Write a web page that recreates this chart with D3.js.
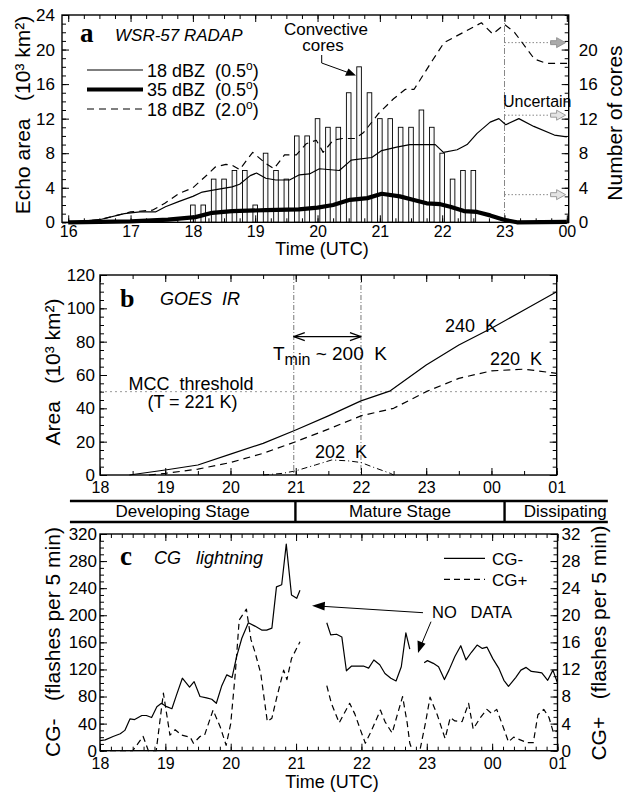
<!DOCTYPE html>
<html>
<head>
<meta charset="utf-8">
<script src="https://cdn.jsdelivr.net/npm/d3@7"></script>
<style>
  body { margin: 0; background: #fff; }
  svg { display: block; font-family: "Liberation Sans", Arial, sans-serif; }
  text { white-space: pre; }
</style>
</head>
<body>
<svg id="fig" width="627" height="793"></svg>
<script>
// ---------- panel a : radar echo area (10^3 km^2) and convective cores ----------
const coreTimes = ["18:00","18:10","18:20","18:30","18:40","18:50","19:00","19:10","19:20","19:30",
                   "19:40","19:50","20:00","20:10","20:20","20:30","20:40","20:50","21:00","21:10",
                   "21:20","21:30","21:40","21:50","22:00","22:10","22:20","22:30"];
const coreCounts = [2,2,5,5,6,6,2,8,6,5,10,10,12,11,11,15,18,15,12,12,11,11,13,11,8,5,6,6];

const echo18Low = [[16.0,0],[16.5,0.3],[16.9,1.0],[17.15,1.2],[17.4,1.2],[17.56,1.8],[17.77,2.4],[18.0,3.0],
  [18.15,3.5],[18.3,3.7],[18.63,4.1],[18.75,4.4],[18.92,5.4],[19.02,5.7],[19.17,5.1],[19.33,4.9],[19.55,4.9],
  [19.71,5.5],[19.87,5.6],[20.03,6.2],[20.35,6.0],[20.54,7.2],[20.87,7.5],[21.03,8.3],[21.27,8.7],[21.48,9.0],
  [21.89,9.0],[22.02,8.1],[22.24,8.4],[22.4,9.0],[22.56,10.3],[22.77,11.6],[22.91,12.0],[23.02,11.3],
  [23.23,12.0],[23.47,11.1],[23.8,10.1],[24.0,9.9]];
const echo35Low = [[16.0,0],[17.0,0.1],[17.6,0.3],[18.04,0.6],[18.31,1.1],[18.63,1.3],[19.17,1.4],[19.7,1.5],
  [20.0,1.7],[20.25,2.0],[20.52,2.6],[20.8,2.8],[21.03,3.3],[21.32,3.0],[21.53,2.6],[21.75,2.2],[21.97,2.1],
  [22.13,1.8],[22.35,1.3],[22.56,1.2],[22.77,0.8],[22.99,0.3],[23.2,0],[24.0,0.05]];
const echo18High = [[16.0,0],[16.5,0.3],[17.0,1.2],[17.35,1.4],[17.55,2.2],[17.77,3.3],[18.0,4.0],[18.2,5.3],
  [18.36,6.4],[18.53,6.7],[18.63,6.6],[18.75,6.1],[18.96,8.1],[19.17,6.8],[19.3,6.2],[19.47,7.8],[19.66,7.8],
  [19.82,9.1],[19.98,9.5],[20.09,8.1],[20.25,9.5],[20.4,9.7],[20.6,9.7],[20.74,10.4],[20.98,12.6],[21.22,14.3],
  [21.41,15.4],[21.55,15.4],[21.84,18.7],[22.03,20.8],[22.63,23.1],[22.81,21.8],[23.0,22.9],[23.16,22.0],
  [23.48,18.9],[23.67,18.4],[24.02,18.4]];
const uncertainLevels = [20.8, 12.4, 3.2];

// ---------- panel b : GOES IR cloud-shield area (10^3 km^2) ----------
const ir240 = [[18.45,0],[19,3],[19.5,6],[20,12.5],[20.5,19],[21,27],[21.5,35.5],[22,44.5],[22.45,50.5],
  [23,66],[23.5,78],[24,88],[24.5,99],[25,110]];
const ir220 = [[18.75,0],[19,1],[19.5,3.5],[20,7.5],[20.5,13],[21,20],[21.5,27.5],[22,35.5],[22.5,40],
  [23,50],[23.5,58],[24,62.5],[24.5,63.5],[25,61]];
const ir202 = [[20.5,0],[20.8,1],[21,2.5],[21.3,6],[21.55,9],[21.8,8.5],[22,7.5],[22.2,4.5],[22.45,1],[22.5,0]];
const mccThreshold = 50;
const tminWindow = [20.97, 22.0];

// ---------- stages ----------
const stageNames = ["Developing Stage", "Mature Stage", "Dissipating"];
const stageEdges = [17.54, 20.99, 24.19, 25.77];

// ---------- panel c : CG lightning (flashes per 5 min) ----------
const cgMinus = [
  [[18.0,15],[18.08,16],[18.2,21],[18.31,25],[18.38,30],[18.46,47],[18.53,46],[18.64,52],[18.71,52],[18.79,49],
   [18.87,65],[18.94,70],[19.02,65],[19.1,62],[19.17,82],[19.26,107],[19.37,94],[19.44,102],[19.53,80],[19.63,78],
   [19.71,76],[19.78,70],[19.86,95],[19.94,112],[20.02,108],[20.09,139],[20.17,166],[20.27,189],[20.37,184],
   [20.48,178],[20.55,178],[20.63,181],[20.7,242],[20.78,245],[20.85,305],[20.93,230],[21.01,225],[21.06,237]],
  [[21.47,189],[21.53,171],[21.62,172],[21.7,168],[21.77,118],[21.85,125],[21.94,125],[22.03,125],[22.11,122],
   [22.19,134],[22.28,127],[22.36,114],[22.45,107],[22.53,103],[22.61,124],[22.68,174],[22.74,150]],
  [[22.96,130],[23.01,133],[23.1,129],[23.18,124],[23.27,105],[23.34,119],[23.43,139],[23.52,155],[23.6,134],
   [23.68,145],[23.77,156],[23.85,151],[23.92,153],[24.01,136],[24.1,122],[24.18,104],[24.25,95],[24.36,108],
   [24.44,119],[24.52,123],[24.6,117],[24.69,116],[24.76,115],[24.85,104],[24.93,119],[25.0,100]]
];
const cgPlus = [
  [[18.0,0],[18.5,0],[18.66,2.1],[18.74,0],[18.86,0],[18.97,8.5],[19.07,2.3],[19.15,3.1],[19.25,2.3],[19.38,2.0],
   [19.43,1.1],[19.53,2.1],[19.6,2.3],[19.73,6.0],[19.84,3.5],[19.93,0.8],[20.0,4.0],[20.07,11.4],[20.13,19.3],
   [20.24,20.9],[20.31,16.4],[20.37,14.6],[20.46,11.4],[20.56,4.3],[20.63,4.8],[20.7,7.7],[20.81,11.9],
   [20.86,10.5],[20.93,13.6],[21.06,16.1]],
  [[21.47,9.6],[21.54,7.0],[21.66,4.1],[21.73,5.4],[21.82,7.0],[21.9,5.4],[21.98,3.2],[22.06,1.1],[22.16,3.1],
   [22.29,6.0],[22.36,4.3],[22.47,2.6],[22.54,5.0],[22.63,8.0],[22.7,4.1],[22.74,1.1],[22.78,0]],
  [[22.9,0.3],[22.98,4.1],[23.05,7.9],[23.16,5.3],[23.28,1.8],[23.36,4.9],[23.43,4.4],[23.54,4.3],[23.64,7.0],
   [23.71,3.2],[23.82,4.9],[23.92,6.1],[23.99,5.5],[24.07,6.1],[24.18,3.2],[24.25,1.3],[24.33,2.0],[24.43,1.6],
   [24.53,1.2],[24.63,1.2],[24.7,5.3],[24.79,6.1],[24.87,4.9],[24.94,2.6],[25.0,3.0]]
];

const hoursA = [16,17,18,19,20,21,22,23,24];
const hoursBC = [18,19,20,21,22,23,24,25];

// ---------- scales ----------
const xA = d3.scaleLinear().domain([15.9, 24.03]).range([62, 568.7]);
const yA = d3.scaleLinear().domain([0, 24]).range([222.3, 15]);
const xB = d3.scaleLinear().domain([18, 25]).range([100, 556.7]);
const yB = d3.scaleLinear().domain([0, 120]).range([475, 275]);
const xC = d3.scaleLinear().domain([18, 25]).range([100, 557.5]);
const yC = d3.scaleLinear().domain([0, 320]).range([750.7, 534]);
const yC2 = d3.scaleLinear().domain([0, 32]).range([750.7, 534]);

const svg = d3.select("#fig");
const hourFmt = h => String(h % 24).padStart(2, "0");
const parseHM = s => { const [h, m] = s.split(":").map(Number); return h + m / 60; };

function addAxis(axis, tx, ty, size) {
    const g = svg.append("g").attr("transform", `translate(${tx},${ty})`).call(axis);
    g.select(".domain").remove();
    g.attr("font-family", null).attr("font-size", size);
    g.selectAll("text").attr("fill", "#000");
    return g;
}

function frame(x, y) {
    const [x0, x1] = x.range(), [y0, y1] = y.range();
    svg.append("rect")
        .attr("x", x0).attr("y", y1).attr("width", x1 - x0).attr("height", y0 - y1)
        .attr("fill", "none").attr("stroke", "#000").attr("stroke-width", 1.4);
}

// x ticks top and bottom, labels at bottom
function timeAxes(x, y, minorStep, labelPad) {
    const [lo, hi] = x.domain(), [y0, y1] = y.range();
    const major = hoursBC.concat(hoursA).filter((h, i, a) => a.indexOf(h) === i && h >= lo - 1e-6 && h <= hi + 1e-6);
    const minor = d3.range(Math.ceil(lo), hi + 1e-6, minorStep);
    addAxis(d3.axisBottom(x).tickValues(major).tickSize(-7).tickSizeOuter(0).tickPadding(labelPad).tickFormat(hourFmt), 0, y0, 16);
    addAxis(d3.axisBottom(x).tickValues(minor).tickSize(-4).tickSizeOuter(0).tickFormat(""), 0, y0, 16);
    addAxis(d3.axisTop(x).tickValues(major).tickSize(-7).tickSizeOuter(0).tickFormat(""), 0, y1, 16);
    addAxis(d3.axisTop(x).tickValues(minor).tickSize(-4).tickSizeOuter(0).tickFormat(""), 0, y1, 16);
}

function valueAxis(side, y, pos, majorVals, minorVals, pad, labels) {
    const mk = side === "left" ? d3.axisLeft : d3.axisRight;
    addAxis(mk(y).tickValues(majorVals).tickSize(-7).tickSizeOuter(0).tickPadding(pad)
        .tickFormat(labels ? d3.format("d") : ""), pos, 0, 17);
    addAxis(mk(y).tickValues(minorVals).tickSize(-4).tickSizeOuter(0).tickFormat(""), pos, 0, 17);
}

function text(str, x, y, opts = {}) {
    const t = svg.append("text").attr("x", x).attr("y", y)
        .attr("font-size", opts.size || 18)
        .attr("text-anchor", opts.anchor || "start")
        .text(str);
    if (opts.italic) t.attr("font-style", "italic");
    if (opts.serif) t.attr("font-family", '"Liberation Serif", "DejaVu Serif", serif').attr("font-weight", "bold");
    if (opts.rotate) t.attr("transform", `rotate(-90,${x},${y})`);
    return t;
}

function line(data, x, y) {
    return d3.line().x(d => x(d[0])).y(d => y(d[1]))(data);
}

function path(d, width, dash) {
    return svg.append("path").attr("d", d).attr("fill", "none").attr("stroke", "#000")
        .attr("stroke-width", width).attr("stroke-dasharray", dash || null).attr("stroke-linejoin", "round");
}

// ================= panel a =================
const barW = 4.6;
svg.append("g").selectAll("rect")
    .data(coreTimes.map((t, i) => [parseHM(t), coreCounts[i]]))
    .join("rect")
    .attr("x", d => xA(d[0]) - barW / 2)
    .attr("y", d => yA(d[1]))
    .attr("width", barW)
    .attr("height", d => yA(0) - yA(d[1]))
    .attr("fill", "#fafafa").attr("stroke", "#000").attr("stroke-width", 0.9);

// uncertain region at 23 UTC
svg.append("line").attr("x1", xA(23.0)).attr("x2", xA(23.0)).attr("y1", yA(24)).attr("y2", yA(0))
    .attr("stroke", "#888").attr("stroke-width", 1).attr("stroke-dasharray", "6,2,1,2");
uncertainLevels.forEach((v, i) => {
    const y = yA(v), x0 = xA(23.0), tip = xA(23.98);
    svg.append("line").attr("x1", x0).attr("x2", tip - 12).attr("y1", y).attr("y2", y)
        .attr("stroke", "#888").attr("stroke-dasharray", "1.5,2");
    svg.append("path")
        .attr("d", `M${tip},${y} L${tip - 9},${y - 5} L${tip - 9},${y - 2} L${tip - 15},${y - 2} L${tip - 15},${y + 2} L${tip - 9},${y + 2} L${tip - 9},${y + 5} Z`)
        .attr("fill", i === 0 ? "#aaa" : "#e4e4e4").attr("stroke", "#888").attr("stroke-width", 0.8);
});

path(line(echo18Low, xA, yA), 1.2);
path(line(echo18High, xA, yA), 1.2, "7,5");
path(line(echo35Low, xA, yA), 4.2);

frame(xA, yA);
timeAxes(xA, yA, 0.25, 3.5);
valueAxis("left", yA, xA.range()[0], d3.range(0, 25, 4), d3.range(0, 25, 1), 7, true);
valueAxis("right", yA, xA.range()[1], d3.range(0, 21, 4), d3.range(0, 25, 1), 10, true);

text("a", 80, 42, { serif: true, size: 27 });
text("WSR-57 RADAP", 115, 41, { italic: true, size: 17 });
text("Convective", 326, 35, { anchor: "middle", size: 17 });
text("cores", 323, 51, { anchor: "middle", size: 17 });
path("M321.7,55 L321.7,63 L348,72.5", 1);
svg.append("path").attr("d", "M356,75.5 L345,75.8 L348.5,68.5 Z").attr("fill", "#000");
text("Uncertain", 503, 107, { size: 16 });

// legend a
const legA = [
    { y: 70, w: 1.2, dash: null },
    { y: 89.5, w: 4.2, dash: null },
    { y: 109, w: 1.2, dash: "7,5" }
];
const legAText = [["18 dBZ  (0.5", ")"], ["35 dBZ  (0.5", ")"], ["18 dBZ  (2.0", ")"]];
legA.forEach((l, i) => {
    path(`M87,${l.y} L143,${l.y}`, l.w, l.dash);
    const t = text(legAText[i][0], 147, l.y + 6.5);
    t.append("tspan").attr("font-size", 12).attr("dy", -7).text("o");
    t.append("tspan").attr("dy", 7).text(legAText[i][1]);
});

text("Time (UTC)", 322, 255, { anchor: "middle" });
text("Echo area   (10³ km²)", 30, 115, { anchor: "middle", size: 21, rotate: true });
text("Number of cores", 622, 123, { anchor: "middle", size: 21, rotate: true });

// ================= panel b =================
svg.append("line").attr("x1", xB.range()[0]).attr("x2", xB.range()[1]).attr("y1", yB(mccThreshold)).attr("y2", yB(mccThreshold))
    .attr("stroke", "#999").attr("stroke-dasharray", "2,3");
tminWindow.forEach(t => {
    svg.append("line").attr("x1", xB(t)).attr("x2", xB(t)).attr("y1", yB(120)).attr("y2", yB(0))
        .attr("stroke", "#777").attr("stroke-dasharray", "5,2,1,2");
});
path(line(ir240, xB, yB), 1.2);
path(line(ir220, xB, yB), 1.2, "7,5");
path(line(ir202, xB, yB), 1, "6,3,1,3");

frame(xB, yB);
timeAxes(xB, yB, 0.5, 6.5);
valueAxis("left", yB, xB.range()[0], d3.range(0, 121, 20), d3.range(0, 121, 5), 5, true);
valueAxis("right", yB, xB.range()[1], d3.range(0, 121, 20), d3.range(0, 121, 5), 5, false);

// double arrow for Tmin window
{
    const y = yB(83), xa = xB(tminWindow[0]), xb = xB(tminWindow[1]);
    path(`M${xa},${y} L${xb},${y}`, 1.2);
    path(`M${xa + 11},${y - 4} L${xa},${y} L${xa + 11},${y + 4}`, 1.2);
    path(`M${xb - 11},${y - 4} L${xb},${y} L${xb - 11},${y + 4}`, 1.2);
}
text("b", 120, 307, { serif: true, size: 26 });
text("GOES  IR", 160, 305, { italic: true });
{
    const t = text("T", 273, 360, { size: 19 });
    t.append("tspan").attr("font-size", 16).attr("dy", 5).text("min");
    t.append("tspan").attr("dy", -5).text(" ~ 200  K");
}
text("MCC  threshold", 191, 390, { anchor: "middle" });
text("(T = 221 K)", 192.5, 408, { anchor: "middle" });
text("240  K", 445, 332);
text("220  K", 490, 365);
text("202  K", 315, 458);
text("Area   (10³ km²)", 60, 372, { anchor: "middle", size: 21, rotate: true });

// ================= stage bar =================
{
    const y0 = 501, y1 = 522;
    const xs = stageEdges.map(xC);
    path(`M${xs[0]},${y0} L${xs[3]},${y0}`, 2.6);
    path(`M${xs[0]},${y1} L${xs[3]},${y1}`, 2.4);
    [xs[1], xs[2]].forEach(x => path(`M${x},${y0} L${x},${y1}`, 2.4));
    stageNames.forEach((n, i) => {
        if (i < 2) text(n, (xs[i] + xs[i + 1]) / 2, 517, { anchor: "middle", size: 17 });
        else text(n, xs[3] - 1, 517, { anchor: "end", size: 17 });
    });
}

// ================= panel c =================
cgMinus.forEach(seg => path(line(seg, xC, yC), 1.2));
cgPlus.forEach(seg => path(line(seg, xC, yC2), 1.2, "6,4"));

frame(xC, yC);
timeAxes(xC, yC, 1 / 6, 7);
valueAxis("left", yC, xC.range()[0], d3.range(0, 321, 40), d3.range(0, 321, 10), 3, true);
valueAxis("right", yC2, xC.range()[1], d3.range(0, 33, 4), d3.range(0, 33, 1), 4, true);

text("c", 120, 565, { serif: true, size: 27 });
text("CG   lightning", 154, 564, { italic: true });

path("M444,558.3 L485,558.3", 1.2);
text("CG-", 492, 564.5, { size: 17 });
path("M444,579.3 L485,579.3", 1.2, "6,4");
text("CG+", 492, 585.5, { size: 17 });

text("NO   DATA", 432, 618, { size: 16.5 });
path("M423,612.7 L324,606.4", 1);
svg.append("path").attr("d", "M312,605.7 L325,601.8 L324.5,610.6 Z").attr("fill", "#000");
path("M431,621.7 L422,643", 1);
svg.append("path").attr("d", "M418,653 L417.5,640.5 L425.5,643.8 Z").attr("fill", "#000");

text("Time (UTC)", 332, 788, { anchor: "middle" });
text("CG-   (flashes per 5 min)", 60, 642, { anchor: "middle", size: 21, rotate: true });
text("CG+   (flashes per 5 min)", 606, 643, { anchor: "middle", size: 21, rotate: true });
</script>
</body>
</html>
